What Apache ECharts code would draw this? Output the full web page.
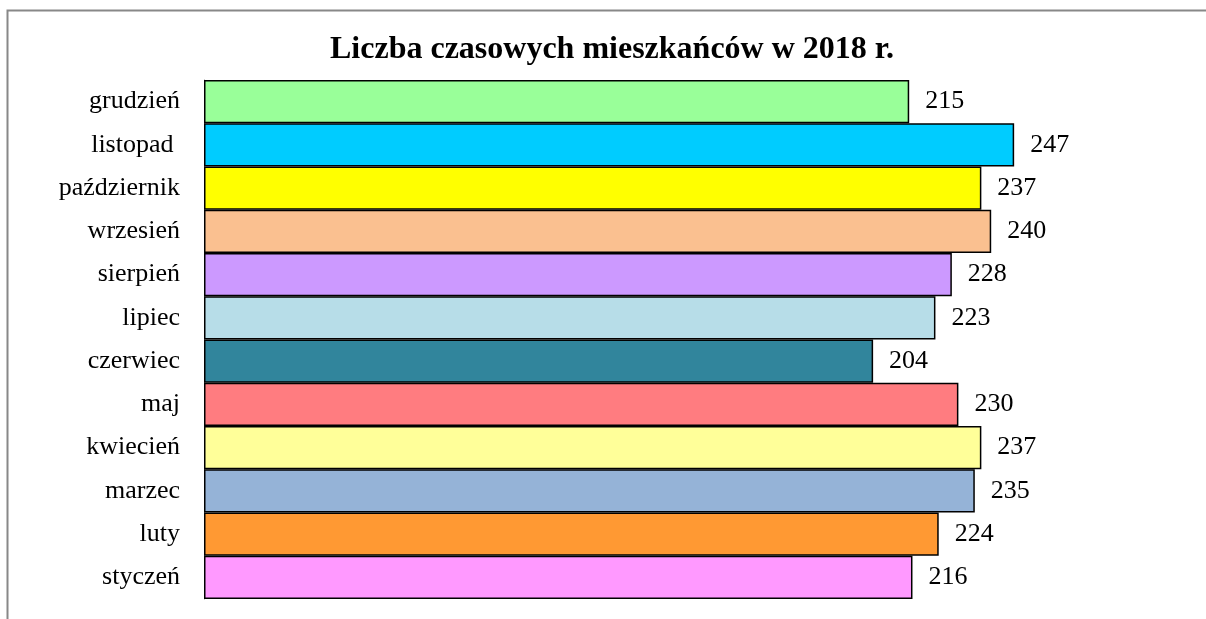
<!DOCTYPE html>
<html>
<head>
<meta charset="utf-8">
<style>
  html, body { margin: 0; padding: 0; background: #fff; }
  #chart { width: 1206px; height: 619px; }
</style>
<script src="https://cdn.jsdelivr.net/npm/echarts@6/dist/echarts.min.js"></script>
</head>
<body>
<div id="chart"></div>
<script>
// months from bottom (styczeń) to top (grudzień)
var months = ['styczeń', 'luty', 'marzec', 'kwiecień', 'maj', 'czerwiec',
  'lipiec', 'sierpień', 'wrzesień', 'październik', 'listopad ', 'grudzień']
var residents = [216, 224, 235, 237, 230, 204, 223, 228, 240, 237, 247, 215]
var barColors = ['#FF99FF', '#FF9933', '#95B3D7', '#FFFF99', '#FF7C80', '#31859C',
  '#B7DDE8', '#CC99FF', '#FAC090', '#FFFF00', '#00CCFF', '#99FF99']

var font = '"Liberation Serif", "DejaVu Serif", serif'

var chart = echarts.init(document.getElementById('chart'))

chart.setOption({
  animation: false,
  title: {
    text: 'Liczba czasowych mieszkańców w 2018 r.',
    left: 325,
    top: 29,
    textStyle: {
      fontFamily: font,
      fontSize: 32,
      fontWeight: 'bold',
      color: '#000'
    }
  },
  graphic: [{
    type: 'rect',
    silent: true,
    shape: { x: 7.5, y: 10.5, width: 1300, height: 700 },
    style: { fill: 'none', stroke: '#888', lineWidth: 2 }
  }],
  grid: {
    left: 204,
    top: 80,
    width: 984,
    height: 519
  },
  xAxis: {
    type: 'value',
    min: 0,
    max: 300,
    show: false
  },
  yAxis: {
    type: 'category',
    data: months,
    axisLine: { show: true, lineStyle: { color: '#888', width: 1 } },
    axisTick: { show: false },
    axisLabel: {
      margin: 24,
      fontFamily: font,
      fontSize: 26,
      color: '#000'
    }
  },
  series: [{
    type: 'bar',
    barCategoryGap: 0,
    data: residents.map(function (v, i) {
      return { value: v, itemStyle: { color: barColors[i] } }
    }),
    itemStyle: {
      borderColor: '#000',
      borderWidth: 1.5
    },
    label: {
      show: true,
      position: 'right',
      distance: 16,
      fontFamily: font,
      fontSize: 26,
      color: '#000'
    }
  }]
})
</script>
</body>
</html>
